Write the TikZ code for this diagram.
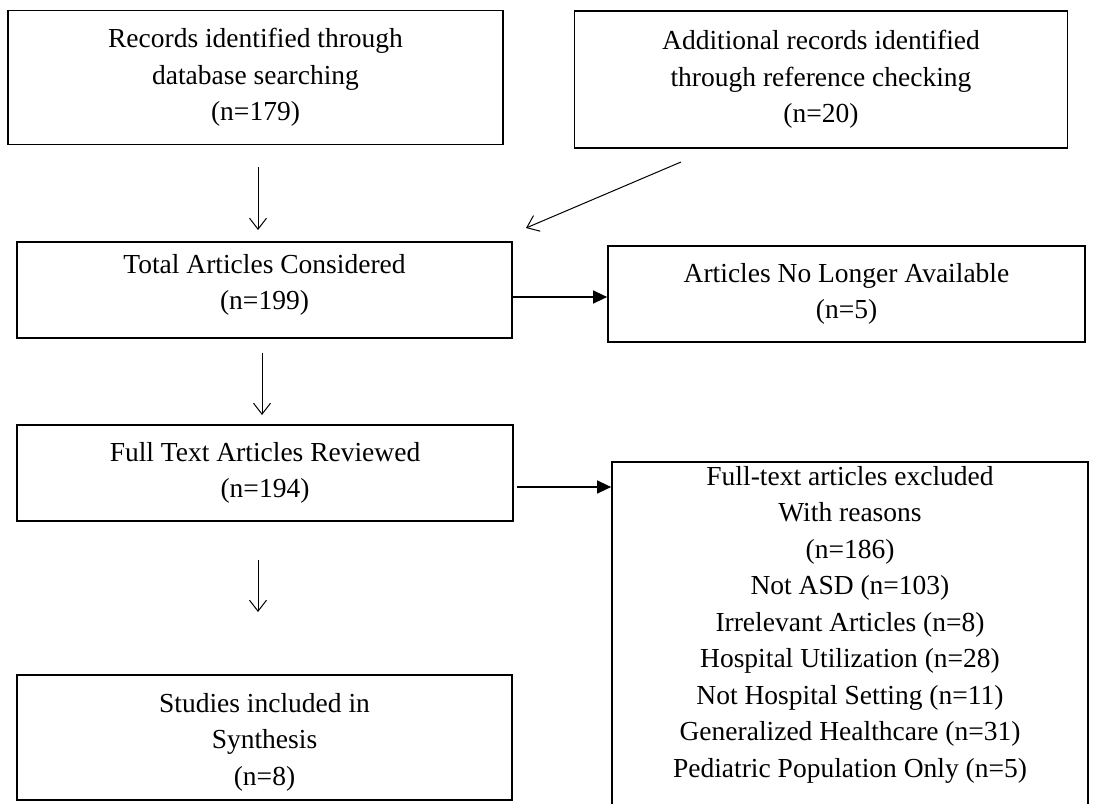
\documentclass[tikz,border=0pt]{standalone}
\usepackage{fontspec}
\setmainfont{Liberation Serif}
\usetikzlibrary{arrows.meta}
\begin{document}
\begin{tikzpicture}[x=1bp,y=-1bp,
  box/.style={draw,line width=1.7bp,inner sep=0pt,align=center,
    font=\fontsize{27.5bp}{36.5bp}\selectfont},
  txt/.style={inner sep=0pt,align=center,
    font=\fontsize{27.5bp}{36.5bp}\selectfont},
  openarr/.style={line width=1bp,-{Straight Barb[length=11bp,width=17bp,line width=1bp]}},
  fillarr/.style={line width=1.3bp,-{Triangle[length=14bp,width=13bp]}}]
\useasboundingbox (0,0) rectangle (1095,804);
\node[box,minimum width=495bp,minimum height=134bp] (rec) at (255.5,77.5)
  {Records identified through\\database searching\\(n=179)};
\node[box,minimum width=493bp,minimum height=137bp] (add) at (821,79.5)
  {Additional records identified\\through reference checking\\(n=20)};
\node[box,minimum width=495bp,minimum height=96bp] (tot) at (264.5,290) {};
\node[txt] (tott) at (264.5,285) {Total Articles Considered\\(n=199)};
\node[box,minimum width=477bp,minimum height=96bp] (nla) at (846.5,294)
  {Articles No Longer Available\\(n=5)};
\node[box,minimum width=496bp,minimum height=96bp] (full) at (265,473)
  {Full Text Articles Reviewed\\(n=194)};
\node[box,minimum width=476bp,minimum height=440bp] (exc) at (850,682) {};
\node[txt,anchor=north] (exct) at (850,466)
  {Full-text articles excluded\\With reasons\\(n=186)\\Not ASD (n=103)\\Irrelevant Articles (n=8)\\Hospital Utilization (n=28)\\Not Hospital Setting (n=11)\\Generalized Healthcare (n=31)\\Pediatric Population Only (n=5)};
\node[box,minimum width=495bp,minimum height=125bp] (stu) at (264.5,737.5) {};
\node[txt] (stut) at (264.5,742) {Studies included in\\Synthesis\\(n=8)};
\coordinate (a1s) at (258,167);
\coordinate (a1e) at (258,230);
\coordinate (a2s) at (681,162);
\coordinate (a2e) at (526,228);
\coordinate (a3s) at (262,353);
\coordinate (a3e) at (262,415);
\coordinate (a4s) at (258,560);
\coordinate (a4e) at (258,612);
\draw[openarr] (a1s) -- (a1e);
\draw[openarr] (a2s) -- (a2e);
\draw[openarr] (a3s) -- (a3e);
\draw[openarr] (a4s) -- (a4e);
\draw[fillarr] (tot.east |- 0,297) -- (nla.west |- 0,297);
\draw[fillarr] ([xshift=3bp]full.east |- 0,487) -- (exc.west |- 0,487);
\end{tikzpicture}
\end{document}
